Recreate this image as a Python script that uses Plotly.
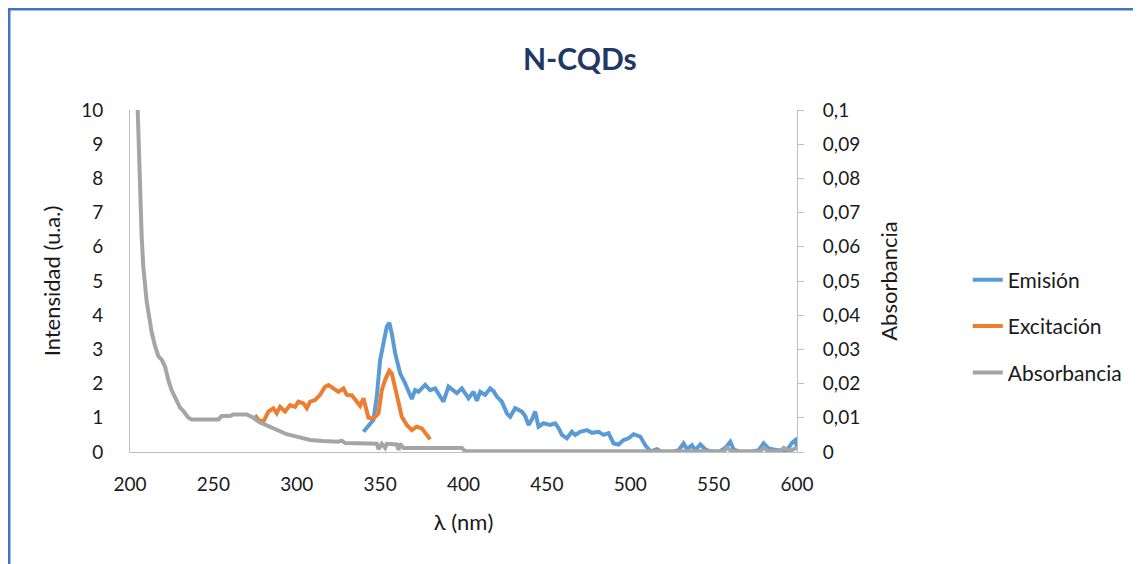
import plotly.graph_objects as go

# ---------------- data ----------------
em_nm = [340, 342, 344, 346, 348, 350, 352, 354, 355.5, 357, 359, 362, 365, 367, 369, 371, 373, 377,
         380, 383, 386, 388, 391, 394, 396, 399, 401, 403, 406, 408, 410, 413, 416, 418, 420, 423,
         426, 428, 431, 435, 437, 439, 441, 443, 445, 448, 452, 455, 457, 459, 462, 465, 467, 470,
         474, 477, 481, 484, 487, 490, 493, 496, 499, 502, 506, 509, 512, 516, 519, 525, 529, 532,
         534, 537, 539, 542, 545, 548, 553, 557, 560, 562, 566, 572, 577, 580, 583, 588, 594, 597,
         599, 600]
em_val = [0.59, 0.72, 0.84, 0.94, 1.62, 2.69, 3.18, 3.66, 3.78, 3.47, 2.89, 2.30, 2.01, 1.76, 1.55,
          1.81, 1.76, 1.96, 1.81, 1.86, 1.60, 1.47, 1.91, 1.81, 1.72, 1.86, 1.70, 1.57, 1.76, 1.50,
          1.76, 1.67, 1.86, 1.78, 1.62, 1.47, 1.13, 1.03, 1.28, 1.18, 1.05, 0.79, 0.95, 1.18, 0.74,
          0.84, 0.79, 0.84, 0.70, 0.50, 0.40, 0.59, 0.50, 0.59, 0.64, 0.56, 0.59, 0.50, 0.55, 0.25,
          0.22, 0.35, 0.40, 0.52, 0.45, 0.20, 0.02, 0.08, 0.0, 0.0, 0.05, 0.25, 0.08, 0.20, 0.05,
          0.22, 0.08, 0.02, 0.0, 0.12, 0.30, 0.08, 0.0, 0.0, 0.05, 0.25, 0.10, 0.05, 0.05, 0.27,
          0.35, 0.15]

ex_nm = [275, 277, 280, 283, 286, 288, 290, 293, 296, 299, 301, 304, 306, 308, 311, 314, 317, 319,
         322, 325, 328, 330, 333, 336, 338, 340, 343, 345, 347, 349, 351, 353, 355.5, 357, 360, 363,
         366, 369, 372, 375, 378, 380]
ex_val = [1.08, 0.94, 0.89, 1.18, 1.28, 1.13, 1.32, 1.18, 1.37, 1.32, 1.47, 1.42, 1.28, 1.47, 1.52,
          1.67, 1.91, 1.96, 1.86, 1.76, 1.86, 1.67, 1.66, 1.47, 1.35, 1.57, 1.00, 0.98, 1.03, 1.13,
          1.81, 2.11, 2.38, 2.30, 1.72, 1.03, 0.79, 0.64, 0.74, 0.69, 0.50, 0.37]

ab_nm = [204.3, 205, 206, 207, 208, 210, 212, 213, 215, 217, 219, 221, 223, 225, 228, 230, 232, 235,
         237, 253, 255, 260, 262, 270, 274, 278, 282, 286, 290, 294, 300, 304, 308, 316, 325, 327,
         329, 348, 349, 351, 353, 354, 360, 361, 362, 364, 399, 401, 450, 520, 556, 558, 561, 578,
         580, 583, 590, 592, 596, 600]
ab_val = [0.105, 0.093, 0.074, 0.063, 0.054, 0.044, 0.038, 0.035, 0.031, 0.028, 0.027, 0.025, 0.021,
          0.018, 0.015, 0.013, 0.012, 0.010, 0.0095, 0.0095, 0.0105, 0.0105, 0.011, 0.011, 0.0100,
          0.0086, 0.0078, 0.0069, 0.0060, 0.0052, 0.0045, 0.0040, 0.0035, 0.0032, 0.0030, 0.0033,
          0.0026, 0.0024, 0.0008, 0.0024, 0.0012, 0.0024, 0.0022, 0.0006, 0.0024, 0.0012, 0.0012,
          0.0002, 0.0002, 0.0002, 0.0002, 0.0012, 0.0002, 0.0002, 0.0012, 0.0002, 0.0002, 0.0012,
          0.0004, 0.0012]

x_ticks = [200, 250, 300, 350, 400, 450, 500, 550, 600]
y1_ticks = [0, 1, 2, 3, 4, 5, 6, 7, 8, 9, 10]
y2_ticks = [0, 0.01, 0.02, 0.03, 0.04, 0.05, 0.06, 0.07, 0.08, 0.09, 0.1]
y2_labels = ["0", "0,01", "0,02", "0,03", "0,04", "0,05", "0,06", "0,07", "0,08", "0,09", "0,1"]

FONT = "Lato"
TXT = "#1a1a1a"
AX = "#BFBFBF"

fig = go.Figure()
fig.add_trace(go.Scatter(x=em_nm, y=em_val, name="Emisión", mode="lines", legendgroup="a",
                         line=dict(color="#5B9BD5", width=4)))
fig.add_trace(go.Scatter(x=ex_nm, y=ex_val, name="Excitación", mode="lines", legendgroup="b",
                         line=dict(color="#ED7D31", width=4)))
fig.add_trace(go.Scatter(x=ab_nm, y=ab_val, name="Absorbancia", mode="lines", legendgroup="c",
                         yaxis="y2", line=dict(color="#A5A5A5", width=4)))

fig.update_layout(
    width=1133, height=556,
    paper_bgcolor="white", plot_bgcolor="white",
    margin=dict(l=122, r=344, t=102, b=112),
    font=dict(family=FONT, size=19, color=TXT),
    xaxis=dict(range=[200, 600], tickvals=x_ticks, showgrid=False, zeroline=False,
               showline=True, linecolor=AX, linewidth=1, ticks="", ticklabelstandoff=15,
               title=dict(text="λ (nm)", font=dict(size=22), standoff=20)),
    yaxis=dict(range=[0, 10], tickvals=y1_ticks, showgrid=False, zeroline=False,
               showline=True, linecolor=AX, linewidth=1, ticks="", ticklabelstandoff=22,
               title=dict(text="Intensidad (u.a.)", font=dict(size=22), standoff=14)),
    yaxis2=dict(range=[0, 0.1], tickvals=y2_ticks, ticktext=y2_labels, overlaying="y",
                side="right", showgrid=False, zeroline=False, showline=True, linecolor=AX,
                linewidth=1, ticks="outside", ticklen=6, tickcolor=AX, ticklabelstandoff=15,
                title=dict(text="Absorbancia", font=dict(size=22), standoff=22)),
    legend=dict(x=1.256, y=0.368, xanchor="left", yanchor="middle", tracegroupgap=16,
                font=dict(size=21), bgcolor="rgba(0,0,0,0)"),
    showlegend=True,
)

fig.add_annotation(text="<b>N-CQDs</b>", xref="paper", yref="paper", x=0.675, y=1.152,
                   xanchor="center", yanchor="middle",
                   showarrow=False, font=dict(size=30, color="#1F3864", family=FONT))

# chart-area frame (blue border, left and top edges visible)
fig.add_shape(type="rect", xref="paper", yref="paper", x0=-0.1814, x1=1.8, y0=-0.6, y1=1.2953,
              line=dict(color="#4472C4", width=3), layer="below")

fig.write_html("out.html")
